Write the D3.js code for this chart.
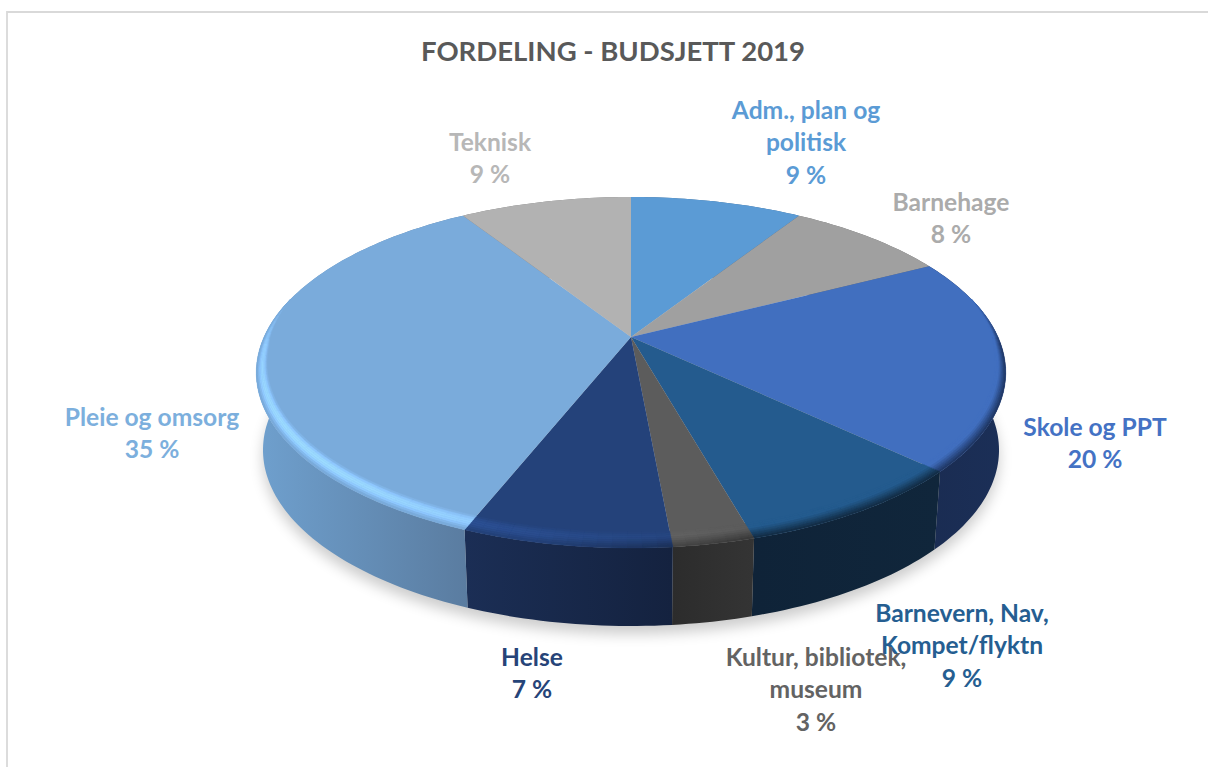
<!DOCTYPE html>
<html>
<head>
<meta charset="utf-8">
<title>Fordeling - budsjett 2019</title>
<script src="https://cdn.jsdelivr.net/npm/d3@7"></script>
<style>
  html, body { margin: 0; padding: 0; background: #fff; }
  svg { display: block; }
  text { font-family: Lato, "Open Sans", sans-serif; font-weight: 700; text-anchor: middle; }
</style>
</head>
<body>
<svg id="chart" width="1208" height="767"></svg>
<script>
var title = 'FORDELING - BUDSJETT 2019';
var categories = ['Adm., plan og\npolitisk', 'Barnehage', 'Skole og PPT', 'Barnevern, Nav,\nKompet/flyktn', 'Kultur, bibliotek,\nmuseum', 'Helse', 'Pleie og omsorg', 'Teknisk'];
var values = [9.0, 8.4, 19.7, 8.55, 2.9, 7.45, 35.0, 9.0];

var topColours = ['#5B9BD5', '#A0A0A0', '#416FBF', '#245B8E', '#5C5C5C', '#24427A', '#7AABDB', '#B2B2B2'];
var textColours = ['#5B9BD5', '#ABABAB', '#4472C4', '#255E91', '#636363', '#264478', '#7CAFDD', '#B7B7B7'];
var sideFrom = ['#3C6A94', '#6E6E6E', '#1B2F57', '#10263B', '#343434', '#14223F', '#5A7CA0', '#7C7C7C'];
var sideTo = ['#3C6A94', '#6E6E6E', '#1A2C52', '#0F2338', '#2C2C2C', '#1B2E55', '#6FA0CE', '#7C7C7C'];

// label centres, first line, chosen by hand like in the original chart
var labelX = [806, 951, 1095, 962, 816, 532, 152, 490];
var labelY = [110, 202, 427, 613, 657, 657, 417, 142];
var lineGap = 32.5;

var svg = d3.select('#chart');
var defs = svg.append('defs');

// perspective of the disc, p tilts it towards the viewer
var p = 0.2023;
function project(a, disc, t) {
  var x = Math.sin(a) * t, y = -Math.cos(a) * t, w = 1 - p * y;
  return [disc.cx + disc.rx * x / w, disc.cy + disc.ry * y / w];
}
var topDisc = {cx: 631, cy: 337, rx: 367, ry: 168.3};
var baseDisc = {cx: 631, cy: 414.4, rx: 360.4, ry: 168.8};

var line = d3.line();
var pie = d3.pie().sort(null).value(function(d) { return d; });
var arcs = pie(values);

function arcPoints(d, disc, t) {
  var n = Math.max(2, Math.ceil((d.endAngle - d.startAngle) / 0.02));
  return d3.range(n + 1).map(function(i) {
    return project(d.startAngle + (d.endAngle - d.startAngle) * i / n, disc, t);
  });
}

// frame
svg.append('path').attr('d', 'M7,767V12H1208').attr('fill', 'none').attr('stroke', '#d9d9d9').attr('stroke-width', 1.8);

// shadow under the pie
defs.append('filter').attr('id', 'soft').attr('x', '-10%').attr('y', '-10%').attr('width', '120%').attr('height', '130%')
  .append('feGaussianBlur').attr('stdDeviation', 7);
svg.append('path')
  .attr('d', line(arcPoints({startAngle: 0, endAngle: 2 * Math.PI}, baseDisc, 1)) + 'Z')
  .attr('transform', 'translate(0,8)')
  .attr('fill', '#000').attr('opacity', 0.2)
  .attr('filter', 'url(#soft)');

// side walls
arcs.forEach(function(d, i) {
  var up = arcPoints(d, topDisc, 1), down = arcPoints(d, baseDisc, 1);
  var xs = d3.extent(up.concat(down), function(q) { return q[0]; });
  var g = defs.append('linearGradient').attr('id', 'side' + i)
    .attr('gradientUnits', 'userSpaceOnUse')
    .attr('x1', xs[1]).attr('x2', xs[0]).attr('y1', 0).attr('y2', 0);
  g.append('stop').attr('offset', 0).attr('stop-color', sideFrom[i]);
  g.append('stop').attr('offset', 1).attr('stop-color', sideTo[i]);
  svg.append('path')
    .attr('d', line(up.concat(down.reverse())) + 'Z')
    .attr('fill', 'url(#side' + i + ')');
});

// top faces
arcs.forEach(function(d, i) {
  svg.append('path')
    .attr('d', line([project(0, topDisc, 0)].concat(arcPoints(d, topDisc, 1))) + 'Z')
    .attr('fill', topColours[i]);
});

// bevel along the rim, only on the part facing the viewer
var bevelRings = 8;
function clamp(v) { return Math.max(0, Math.min(1, v)); }
function frontOf(a) { return clamp((-Math.cos(a) + 0.25) / 0.3); }
function ringPoint(a, u) {
  var width = frontOf(a) * (0.02 + 0.042 * Math.max(0, -Math.cos(a)));
  return project(a, topDisc, 1 - width * (1 - u));
}
var bevel = svg.append('g');
arcs.forEach(function(d, i) {
  var step = 0.035;
  var n = Math.ceil((d.endAngle - d.startAngle) / step);
  var lighter = d3.interpolateRgb(topColours[i], d3.rgb(topColours[i]).brighter(0.7));
  var toSide = d3.interpolateRgb(topColours[i], sideFrom[i]);
  d3.range(n).forEach(function(j) {
    var a0 = d.startAngle + (d.endAngle - d.startAngle) * j / n;
    var a1 = d.startAngle + (d.endAngle - d.startAngle) * (j + 1) / n;
    var mid = (a0 + a1) / 2;
    var front = frontOf(mid);
    if (front <= 0) return;
    var deg = mid * 180 / Math.PI;
    var light = Math.abs(deg - 235) > 70 ? 0 : Math.cos((deg - 235) / 70 * Math.PI / 2);
    d3.range(bevelRings).forEach(function(r) {
      var u0 = r / bevelRings, u1 = (r + 1) / bevelRings, u = (u0 + u1) / 2;
      var bump = Math.sin(Math.PI * clamp(u / 0.9));
      var dark = clamp((u - 0.35) / 0.65) * clamp(1 - 1.7 * light);
      var c = d3.interpolateRgb(lighter(light * bump), toSide(0.95))(dark);
      var fill = d3.interpolateRgb(topColours[i], c)(front);
      bevel.append('path')
        .attr('d', line([ringPoint(a0, u0), ringPoint(a1, u0), ringPoint(a1, u1), ringPoint(a0, u1)]) + 'Z')
        .attr('fill', fill).attr('stroke', fill).attr('stroke-width', 0.4);
    });
  });
});

// texts
svg.append('text').attr('x', 613).attr('y', 61)
  .attr('font-size', 27.5).attr('fill', '#595959').text(title);

categories.forEach(function(name, i) {
  var lines = name.split('\n').concat([Math.round(values[i]) + ' %']);
  var t = svg.append('text').attr('fill', textColours[i]).attr('font-size', 24.6);
  lines.forEach(function(s, k) {
    t.append('tspan').attr('x', labelX[i]).attr('y', labelY[i] + 8.5 + k * lineGap).text(s);
  });
});
</script>
</body>
</html>
